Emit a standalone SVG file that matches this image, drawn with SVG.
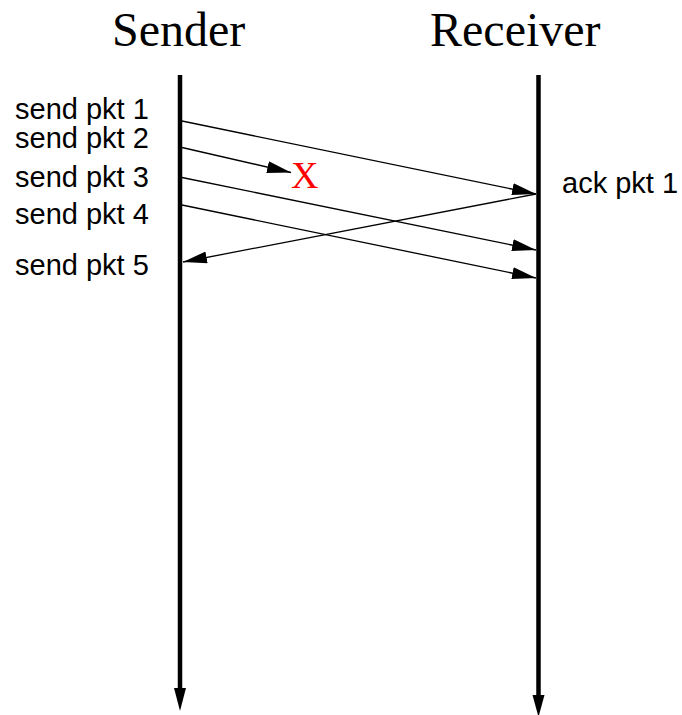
<svg xmlns="http://www.w3.org/2000/svg" width="682" height="715" viewBox="0 0 682 715">
<style>
.head{font-family:"Liberation Serif","Times New Roman",serif;font-size:48px;fill:#000}
.lbl{font-family:"Liberation Sans",Arial,sans-serif;font-size:29px;fill:#000}
.msg{stroke:#000;stroke-width:1.3;fill:none;marker-end:url(#ah)}
.tl{stroke:#000;stroke-width:4.5;fill:none}
</style>
<defs>
<marker id="ah" markerUnits="userSpaceOnUse" markerWidth="24" markerHeight="12" viewBox="0 0 24 12" refX="24" refY="6" orient="auto">
<path d="M0,0 L24,6 L0,12 Z" fill="#000"/>
</marker>
</defs>
<g id="sender">
<text class="head" x="112" y="46">Sender</text>
<line class="tl" x1="180" y1="75" x2="180" y2="690"/>
<path d="M174,688 L186,688 L180,711 Z" fill="#000"/>
</g>
<g id="receiver">
<text class="head" x="430" y="46">Receiver</text>
<line class="tl" x1="538.5" y1="75" x2="538.5" y2="697"/>
<path d="M532.5,695 L544.5,695 L538.5,717 Z" fill="#000"/>
</g>
<g id="labels">
<text class="lbl" x="15" y="119">send pkt 1</text>
<text class="lbl" x="15" y="148">send pkt 2</text>
<text class="lbl" x="15" y="187">send pkt 3</text>
<text class="lbl" x="15" y="224">send pkt 4</text>
<text class="lbl" x="15" y="275">send pkt 5</text>
<text class="lbl" x="562" y="193">ack pkt 1</text>
</g>
<g id="loss">
<text x="291" y="187.5" style="font-family:'Liberation Serif','Times New Roman',serif;font-size:38px;fill:#ff0000">X</text>
</g>
<g id="connectors">
<line class="msg" x1="182" y1="121" x2="536" y2="194"/>
<line class="msg" x1="182" y1="147.5" x2="291" y2="172.5"/>
<line class="msg" x1="182" y1="177.5" x2="536" y2="250"/>
<line class="msg" x1="182" y1="205" x2="536" y2="278"/>
<line class="msg" x1="536" y1="194" x2="183" y2="262"/>
</g>
</svg>
